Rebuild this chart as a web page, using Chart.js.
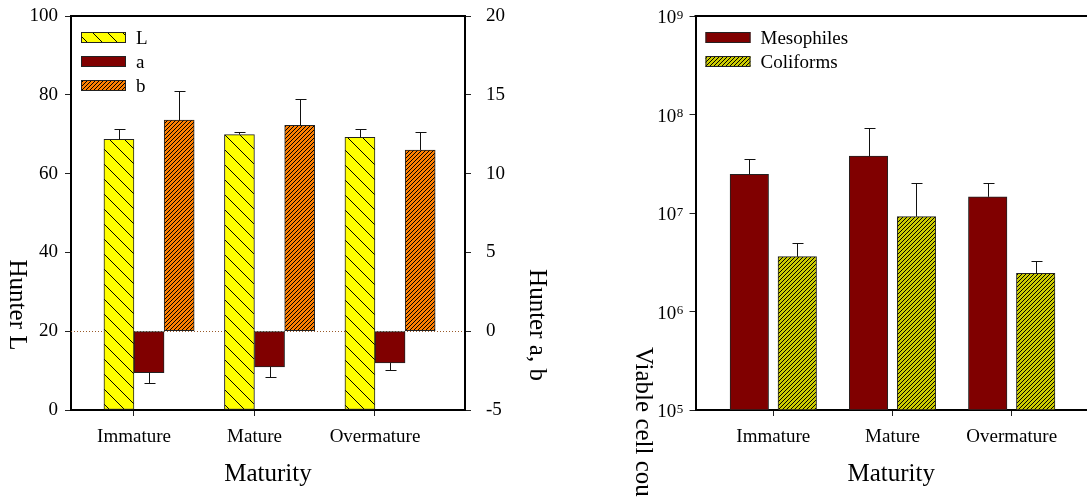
<!DOCTYPE html>
<html>
<head>
<meta charset="utf-8">
<script src="https://cdn.jsdelivr.net/npm/chart.js@4.4.1/dist/chart.umd.min.js"></script>
<style>
  html, body { margin: 0; padding: 0; background: #fff; overflow: hidden; width: 1087px; height: 497px; }
  body { position: relative; }
  #colour { position: absolute; left: 0; top: 0; }
  #counts { position: absolute; left: 560px; top: 0; }
</style>
</head>
<body>
<canvas id="colour" width="550" height="497"></canvas>
<canvas id="counts" width="527" height="497"></canvas>
<script>
// ---- data -------------------------------------------------------------
const categories = ['Immature', 'Mature', 'Overmature'];

// Hunter colour values (mean and standard deviation)
const hunterL    = [68.7, 69.9, 69.2];
const hunterLErr = [2.5, 0.6, 2.0];
const hunterA    = [-2.63, -2.27, -2.02];
const hunterAErr = [0.68, 0.62, 0.44];
const hunterB    = [13.40, 13.06, 11.50];
const hunterBErr = [1.82, 1.65, 1.14];
const ticksL  = [0, 20, 40, 60, 80, 100];
const ticksAB = [-5, 0, 5, 10, 15, 20];

// Viable cell counts (CFU/g, mean and standard deviation)
const mesophiles    = [2.47e7, 3.79e7, 1.46e7];
const mesophilesErr = [1.09e7, 3.45e7, 0.57e7];
const coliforms     = [3.6e6, 9.2e6, 2.44e6];
const coliformsErr  = [1.32e6, 1.08e7, 0.84e6];
const ticksCount = [1e5, 1e6, 1e7, 1e8, 1e9];

// ---- styling helpers --------------------------------------------------
const FONT = '"Liberation Serif", "Times New Roman", serif';
Chart.defaults.font.family = FONT;
Chart.defaults.color = '#000';

function hatch(ctx, bg, period, dir) {
  const c = document.createElement('canvas');
  c.width = c.height = period;
  const g = c.getContext('2d');
  g.fillStyle = bg;
  g.fillRect(0, 0, period, period);
  g.strokeStyle = '#000';
  g.lineWidth = 1;
  g.beginPath();
  for (let k = -1; k <= 1; k++) {
    if (dir === 'back') { g.moveTo(k * period, 0); g.lineTo(k * period + period, period); }
    else { g.moveTo(k * period, period); g.lineTo(k * period + period, 0); }
  }
  g.stroke();
  return ctx.createPattern(c, 'repeat');
}

const ctxColour = document.getElementById('colour').getContext('2d');
const ctxCounts = document.getElementById('counts').getContext('2d');
const patL = hatch(ctxColour, '#ffff00', 15, 'back');
const patB = hatch(ctxColour, '#ff8000', 4, 'fwd');
const patColi = hatch(ctxCounts, '#cccc00', 4, 'fwd');

// ---- plugins ----------------------------------------------------------
const errorBars = {
  id: 'errorBars',
  afterDatasetsDraw(chart) {
    const ctx = chart.ctx;
    ctx.save();
    ctx.strokeStyle = '#111';
    ctx.lineWidth = 1;
    chart.data.datasets.forEach((ds, di) => {
      if (!ds.errors) return;
      const meta = chart.getDatasetMeta(di);
      const scale = chart.scales[meta.yAxisID];
      meta.data.forEach((bar, i) => {
        const v = ds.data[i].y, e = ds.errors[i];
        const end = v < 0 ? v - e : v + e;
        const x = Math.round(bar.x) + 0.5;
        const y0 = bar.y;
        const y1 = Math.round(scale.getPixelForValue(end)) + 0.5;
        ctx.beginPath();
        ctx.moveTo(x, y0); ctx.lineTo(x, y1);
        ctx.moveTo(x - 5, y1); ctx.lineTo(x + 6, y1);
        ctx.stroke();
      });
    });
    ctx.restore();
  }
};

const frame = {
  id: 'frame',
  beforeDatasetsDraw(chart, args, opts) {
    if (!opts.zeroAxis) return;
    const {ctx, chartArea} = chart;
    const y = Math.round(chart.scales[opts.zeroAxis].getPixelForValue(0)) + 0.5;
    ctx.save();
    ctx.strokeStyle = '#9a5a2a';
    ctx.lineWidth = 1;
    ctx.setLineDash([1, 2]);
    ctx.beginPath();
    ctx.moveTo(chartArea.left, y); ctx.lineTo(chartArea.right, y);
    ctx.stroke();
    ctx.restore();
  },
  afterDraw(chart, args, opts) {
    const {ctx, chartArea} = chart;
    ctx.save();
    ctx.strokeStyle = '#000';
    ctx.lineWidth = 2;
    ctx.beginPath();
    ctx.moveTo(chartArea.left - 1, chartArea.top);
    ctx.lineTo(chartArea.right + 1, chartArea.top);
    if (opts.rightEdge) {
      ctx.moveTo(chartArea.right, chartArea.top);
      ctx.lineTo(chartArea.right, chartArea.bottom);
    }
    ctx.stroke();
    ctx.restore();
  }
};

const boxLegend = {
  id: 'boxLegend',
  afterDraw(chart) {
    const {ctx, chartArea} = chart;
    ctx.save();
    ctx.font = '19px ' + FONT;
    ctx.textBaseline = 'alphabetic';
    ctx.textAlign = 'left';
    chart.data.datasets.forEach((ds, i) => {
      const cy = chartArea.top + 21 + i * 24;
      const x = chartArea.left + 10;
      ctx.fillStyle = ds.backgroundColor;
      ctx.fillRect(x, cy - 5, 45, 11);
      ctx.strokeStyle = '#222';
      ctx.lineWidth = 1;
      ctx.strokeRect(x + 0.5, cy - 4.5, 44, 10);
      ctx.fillStyle = '#000';
      ctx.fillText(ds.label, x + 55, cy + 6.5);
    });
    ctx.restore();
  }
};

const sideTitles = {
  id: 'sideTitles',
  afterDraw(chart, args, opts) {
    const ctx = chart.ctx;
    (opts.items || []).forEach(t => {
      ctx.save();
      ctx.font = '25px ' + FONT;
      ctx.fillStyle = '#000';
      ctx.translate(t.x, t.y);
      ctx.rotate(Math.PI / 2);
      ctx.textAlign = t.align;
      ctx.textBaseline = 'alphabetic';
      ctx.fillText(t.text, 0, 0);
      ctx.restore();
    });
  }
};

// decade labels written as 10 with a raised exponent
const powerLabels = {
  id: 'powerLabels',
  afterDraw(chart) {
    const s = chart.scales.y;
    const ctx = chart.ctx;
    const right = s.right - 12.2;
    ctx.save();
    ctx.fillStyle = '#000';
    ctx.textBaseline = 'alphabetic';
    s.ticks.forEach(t => {
      const y = s.getPixelForValue(t.value);
      const exp = String(Math.round(Math.log10(t.value)));
      ctx.font = '13px ' + FONT;
      const ew = ctx.measureText(exp).width;
      ctx.textAlign = 'left';
      ctx.fillText(exp, right - ew, y + 2.5);
      ctx.font = '19px ' + FONT;
      ctx.textAlign = 'right';
      ctx.fillText('10', right - ew - 0.5, y + 7.3);
    });
    ctx.restore();
  }
};

// ---- shared axis pieces ----------------------------------------------
const barCommon = {
  grouped: false, barPercentage: 1, categoryPercentage: 1,
  borderWidth: 1, borderColor: '#222', borderSkipped: false
};
const axisGrid = { drawOnChartArea: false, drawTicks: true, tickLength: 6, color: '#222', lineWidth: 1, offset: false };
const axisBorder = { display: true, color: '#000', width: 2 };
const tickFont = { size: 19, family: FONT };

// fixed axis width; the end labels may overhang the plot without moving it
function fixWidth(w) {
  return s => { s.width = w; s.paddingTop = 0; s.paddingBottom = 0; };
}

function categoryAxis(min, max) {
  return {
    type: 'linear', position: 'bottom', min, max, offset: false,
    grid: axisGrid, border: axisBorder,
    afterBuildTicks: s => { s.ticks = categories.map((c, i) => ({ value: i })); },
    afterFit: s => { s.height = 87; s.paddingLeft = 0; s.paddingRight = 0; },
    ticks: { font: tickFont, color: '#000', padding: 10, maxRotation: 0, autoSkip: false,
             callback: v => categories[v] },
    title: { display: true, text: 'Maturity', color: '#000',
             font: { size: 25, family: FONT }, padding: { top: 0, bottom: 8 } }
  };
}

// ---- Hunter colour chart ---------------------------------------------
new Chart(ctxColour, {
  type: 'bar',
  data: {
    datasets: [
      { label: 'L', data: categories.map((c, i) => ({ x: i - 0.125, y: hunterL[i] })),
        errors: hunterLErr, yAxisID: 'y', backgroundColor: patL, maxBarThickness: 30, ...barCommon },
      { label: 'a', data: categories.map((c, i) => ({ x: i + 0.125, y: hunterA[i] })),
        errors: hunterAErr, yAxisID: 'y2', backgroundColor: '#800000', maxBarThickness: 30, ...barCommon },
      { label: 'b', data: categories.map((c, i) => ({ x: i + 0.375, y: hunterB[i] })),
        errors: hunterBErr, yAxisID: 'y2', backgroundColor: patB, maxBarThickness: 30, ...barCommon }
    ]
  },
  options: {
    responsive: false, animation: false, devicePixelRatio: 1,
    layout: { padding: { top: 16, left: 0, right: 0, bottom: 0 } },
    plugins: {
      legend: { display: false }, tooltip: { enabled: false },
      frame: { zeroAxis: 'y2', rightEdge: true },
      sideTitles: { items: [
        { text: 'Hunter L', x: 10, y: 305, align: 'center' },
        { text: 'Hunter a, b', x: 530, y: 325, align: 'center' }
      ] }
    },
    scales: {
      x: categoryAxis(-0.5228, 2.7469),
      y: {
        type: 'linear', position: 'left', min: 0, max: 100,
        grid: axisGrid, border: axisBorder,
        afterBuildTicks: s => { s.ticks = ticksL.map(v => ({ value: v })); },
        afterFit: fixWidth(71),
        ticks: { font: tickFont, color: '#000', padding: 7 }
      },
      y2: {
        type: 'linear', position: 'right', min: -5, max: 20,
        grid: axisGrid, border: axisBorder,
        afterBuildTicks: s => { s.ticks = ticksAB.map(v => ({ value: v })); },
        afterFit: fixWidth(85),
        ticks: { font: tickFont, color: '#000', padding: 15 }
      }
    }
  },
  plugins: [frame, errorBars, boxLegend, sideTitles]
});

// ---- viable cell count chart -----------------------------------------
new Chart(ctxCounts, {
  type: 'bar',
  data: {
    datasets: [
      { label: 'Mesophiles', data: categories.map((c, i) => ({ x: i - 0.2013, y: mesophiles[i] })),
        errors: mesophilesErr, yAxisID: 'y', backgroundColor: '#800000', maxBarThickness: 38.5, ...barCommon },
      { label: 'Coliforms', data: categories.map((c, i) => ({ x: i + 0.2013, y: coliforms[i] })),
        errors: coliformsErr, yAxisID: 'y', backgroundColor: patColi, maxBarThickness: 38.5, ...barCommon }
    ]
  },
  options: {
    responsive: false, animation: false, devicePixelRatio: 1,
    layout: { padding: { top: 16, left: 0, right: 0, bottom: 0 } },
    plugins: {
      legend: { display: false }, tooltip: { enabled: false },
      frame: { rightEdge: false },
      sideTitles: { items: [
        { text: 'Viable cell counts (CFU/g)', x: 76, y: 347, align: 'left' }
      ] }
    },
    scales: {
      x: categoryAxis(-0.6527, 2.6317),
      y: {
        type: 'logarithmic', position: 'left', min: 1e5, max: 1e9,
        grid: axisGrid, border: axisBorder,
        afterBuildTicks: s => { s.ticks = ticksCount.map(v => ({ value: v })); },
        afterFit: fixWidth(135.5),
        ticks: { display: false }
      }
    }
  },
  plugins: [frame, errorBars, boxLegend, sideTitles, powerLabels]
});
</script>
</body>
</html>
